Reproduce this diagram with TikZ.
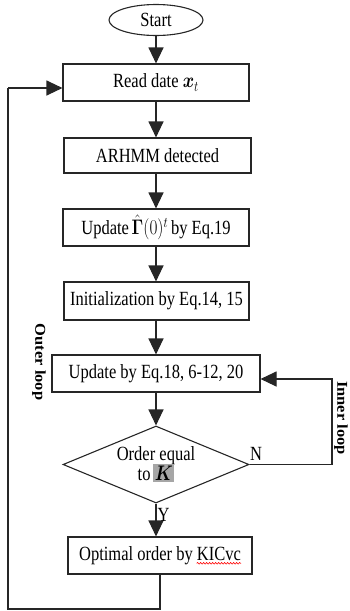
\documentclass[tikz,border=0pt]{standalone}
\usepackage{amsmath,bm}
\usepackage[no-math]{fontspec}
\setmainfont{Liberation Serif}
\usetikzlibrary{arrows.meta,shapes.geometric,decorations.pathmorphing,calc}
\newcommand\tx[1]{\scalebox{1}[1.22]{#1}}
\begin{document}
\begin{tikzpicture}[x=1pt,y=-1pt,
  every node/.style={font=\fontsize{16.5}{18}\selectfont},
  box/.style={draw=black!85,line width=1.1pt,rectangle,inner sep=0pt},
  arr/.style={draw=black!85,line width=1.1pt,-{Triangle[length=16pt,width=15pt]}},
  ln/.style={draw=black!85,line width=1.1pt},
  looplab/.style={font=\fontsize{15}{17}\selectfont\bfseries,rotate=-90}]
\useasboundingbox (0,0) rectangle (349,611);
\node[draw=black!85,line width=1.1pt,ellipse,minimum width=94pt,minimum height=31pt,inner sep=0pt] (start) at (156,20) {\tx{Start}};
\node[box,minimum width=186pt,minimum height=37pt] (read) at (156,82.5) {\tx{Read date $\bm{x}_t$}};
\node[box,minimum width=187pt,minimum height=35pt] (arhmm) at (157.5,155.5) {\tx{ARHMM detected}};
\node[box,minimum width=186pt,minimum height=37pt] (upd) at (156,227.5) {\tx{Update\,$\hat{\mathbf{\Gamma}}(0)^{t}$\,by Eq.19}};
\node[box,minimum width=185pt,minimum height=38pt] (init) at (156.5,301) {\tx{Initialization by Eq.14, 15}};
\node[box,minimum width=208pt,minimum height=37pt] (upd2) at (156,373.5) {\tx{Update by Eq.18, 6-12, 20}};
\node[draw=black!85,line width=1.1pt,diamond,minimum width=186pt,minimum height=77pt,inner sep=0pt] (dec) at (156,464.5) {};
\node[inner sep=0pt] (dectext) at (156,466) {\tx{\begin{tabular}{@{}c@{}}Order equal\\[-2pt]to\,{\setlength{\fboxsep}{1.5pt}\colorbox{black!35}{$\bm{K}$}}\end{tabular}}};
\node[box,minimum width=184pt,minimum height=37pt] (opt) at (160,555.5) {};
\node[inner sep=0pt] (opttxt) at (opt.center) {\tx{Optimal order by KICvc}};
\node[inner sep=0pt,anchor=base east] (kic) at (opttxt.base east) {\phantom{KICvc}};
\draw[red,line width=0.6pt,decorate,decoration={snake,amplitude=0.8pt,segment length=3pt}]
  ($(kic.base west)+(0,3)$) -- ($(kic.base east)+(0,3)$);
\coordinate (ic1) at (332,464.5);
\coordinate (ic2) at (332,379);
\coordinate (oc1) at (160,609);
\coordinate (oc2) at (8,609);
\coordinate (oc3) at (8,88);
\draw[arr] (start) -- (read);
\draw[arr] (read) -- (arhmm.north -| read.south);
\draw[arr] (arhmm.south -| read.south) -- (upd);
\draw[arr] (upd) -- (init.north -| upd.south);
\draw[arr] (init.south -| upd.south) -- (upd2);
\draw[arr] (upd2) -- (dec.north);
\draw[arr] (dec.south) -- (dec.south |- opt.north) node[pos=0.35,right=1pt,inner sep=0pt] (ylab) {\tx{Y}};
\draw[arr] (dec.east) -- (ic1) -- (ic2) -- (upd2.east |- ic2);
\node[inner sep=0pt,anchor=south west] (nlab) at (250,461) {\tx{N}};
\draw[ln] (opt.south) -- (oc1) -- (oc2) -- (oc3);
\draw[arr] (oc3) -- (read.west |- oc3);
\node[looplab] (outer) at (39,362) {\scalebox{1.1}[1]{Outer loop}};
\node[looplab] (inner) at (341,418) {\scalebox{1.1}[1]{Inner loop}};
\end{tikzpicture}
\end{document}
